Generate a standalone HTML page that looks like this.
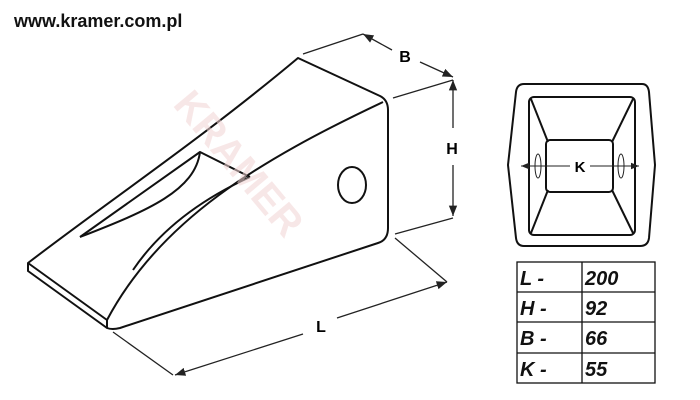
<!DOCTYPE html>
<html><head><style>
body{margin:0;background:#fff;width:700px;height:400px;overflow:hidden}
svg{display:block}
</style></head><body>
<svg width="700" height="400" viewBox="0 0 700 400" xmlns="http://www.w3.org/2000/svg" font-family="Liberation Sans, sans-serif">
<defs>
<marker id="a" viewBox="0 0 10 10" refX="10" refY="5" markerWidth="8" markerHeight="8" orient="auto-start-reverse"><path d="M0,1 L10,5 L0,9 z" fill="#222"/></marker>
</defs>
<text x="14" y="27" font-size="18" font-weight="bold" fill="#111">www.kramer.com.pl</text>
<g fill="none" stroke="#111" stroke-width="2" stroke-linejoin="round">
<path d="M28,263 C110,200 200,140 298,58 L380,96 Q388,100 388,110 L388,228 Q388,240 378,243 L120,328 Q112,330 107,328 L28,271 Z" fill="#fff"/>
<path d="M28,263 L107,320 L107,328"/>
<path d="M107,320 C160,220 260,160 383,102"/>
<path d="M80,237 L200,152 L250,177"/>
<path d="M200,152 C195,190 150,210 80,237"/>
<path d="M133,270 C160,230 200,200 250,177"/>
<ellipse cx="352" cy="185" rx="14" ry="18"/>
</g>
<text x="0" y="0" font-size="40" font-weight="bold" fill="#f2d4d4" transform="translate(172,105) rotate(50)" opacity="0.55">KRAMER</text>
<g fill="none" stroke="#222" stroke-width="1.3">
<line x1="303" y1="54" x2="363" y2="34"/>
<line x1="393" y1="98" x2="453" y2="80"/>
<line x1="395" y1="234" x2="453" y2="218"/>
<line x1="395" y1="238" x2="447" y2="282"/>
<line x1="113" y1="332" x2="173" y2="375"/>
<line x1="363" y1="34" x2="392" y2="50" marker-start="url(#a)"/>
<line x1="420" y1="62" x2="453" y2="77" marker-end="url(#a)"/>
<line x1="453" y1="80" x2="453" y2="128" marker-start="url(#a)"/>
<line x1="453" y1="165" x2="453" y2="216" marker-end="url(#a)"/>
<line x1="447" y1="282" x2="337" y2="318" marker-start="url(#a)"/>
<line x1="303" y1="334" x2="175" y2="375" marker-end="url(#a)"/>
</g>
<text x="405" y="62" font-size="16" font-weight="bold" text-anchor="middle">B</text>
<text x="452" y="154" font-size="16" font-weight="bold" text-anchor="middle">H</text>
<text x="321" y="332" font-size="16" font-weight="bold" text-anchor="middle">L</text>
<g fill="none" stroke="#111" stroke-width="2" stroke-linejoin="round">
<path d="M524,84 L642,84 Q648,84 649,92 L655,165 L649,238 Q648,246 640,246 L524,246 Q517,246 516,238 L508,165 L516,92 Q517,84 524,84 Z"/>
<rect x="529" y="97" width="106" height="138" rx="5"/>
<rect x="546" y="140" width="67" height="52" rx="4"/>
<line x1="531" y1="99" x2="548" y2="142"/>
<line x1="633" y1="99" x2="612" y2="142"/>
<line x1="531" y1="233" x2="548" y2="190"/>
<line x1="633" y1="233" x2="612" y2="190"/>
</g>
<g fill="none" stroke="#222" stroke-width="1">
<ellipse cx="538" cy="166" rx="3" ry="12"/>
<ellipse cx="621" cy="166" rx="3" ry="12"/>
<line x1="521" y1="166" x2="570" y2="166" marker-start="url(#a)"/>
<line x1="590" y1="166" x2="639" y2="166" marker-end="url(#a)"/>
</g>
<text x="580" y="172" font-size="15" font-weight="bold" text-anchor="middle">K</text>
<g stroke="#111" stroke-width="1.3" fill="none">
<rect x="517" y="262" width="138" height="121"/>
<line x1="582" y1="262" x2="582" y2="383"/>
<line x1="517" y1="292" x2="655" y2="292"/>
<line x1="517" y1="322" x2="655" y2="322"/>
<line x1="517" y1="353" x2="655" y2="353"/>
</g>
<g font-size="20" font-weight="bold" font-style="italic" fill="#111">
<text x="520" y="285">L -</text><text x="585" y="285">200</text>
<text x="520" y="315">H -</text><text x="585" y="315">92</text>
<text x="520" y="345">B -</text><text x="585" y="345">66</text>
<text x="520" y="376">K -</text><text x="585" y="376">55</text>
</g>
</svg>
</body></html>
